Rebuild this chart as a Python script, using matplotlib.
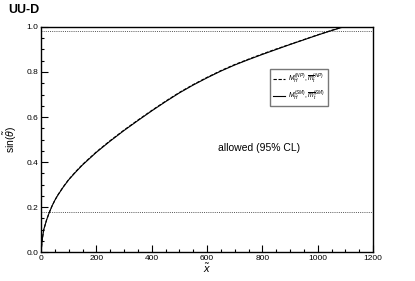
import numpy as np
import matplotlib.pyplot as plt
from matplotlib.ticker import MultipleLocator

plt.rcParams['font.family'] = ['Liberation Sans', 'DejaVu Sans']
plt.rcParams['mathtext.fontset'] = 'custom'
plt.rcParams['mathtext.rm'] = 'Liberation Sans'
plt.rcParams['mathtext.it'] = 'Liberation Sans:italic'

# values
x_vals = [0, 5, 10, 20, 30, 40, 50, 60, 80, 100, 125, 150, 175, 200, 250,
          300, 350, 400, 450, 500, 550, 600, 650, 700, 750, 800, 850, 900,
          950, 1000, 1050, 1092]
sin_sm = [0.0, 0.060, 0.100, 0.142, 0.176, 0.205, 0.230, 0.251, 0.288, 0.321,
          0.355, 0.387, 0.415, 0.443, 0.493, 0.540, 0.584, 0.627, 0.668, 0.707,
          0.742, 0.774, 0.804, 0.831, 0.855, 0.878, 0.900, 0.922, 0.943, 0.964,
          0.984, 1.0]
sin_np = [0.0, 0.060, 0.100, 0.142, 0.176, 0.205, 0.230, 0.252, 0.289, 0.322,
          0.357, 0.389, 0.417, 0.445, 0.495, 0.542, 0.586, 0.629, 0.670, 0.709,
          0.744, 0.776, 0.806, 0.833, 0.857, 0.880, 0.902, 0.923, 0.944, 0.965,
          0.985, 1.0]
limits = [0.98, 0.18]

fig = plt.figure(figsize=(4.15, 2.81), dpi=100)
ax = fig.add_axes([0.0988, 0.103, 0.8, 0.801])

for lim in limits:
    ax.axhline(lim, color='#555555', lw=0.7, ls=(0, (1, 1.2)))

ax.plot(x_vals, sin_np, color='black', lw=0.8, ls=(0, (3, 1.5)),
        label=r'$M_H^{(NP)}, \overline{m}_t^{(NP)}$')
ax.plot(x_vals, sin_sm, color='black', lw=0.8,
        label=r'$M_H^{(SM)}, \overline{m}_t^{(SM)}$')

ax.text(788, 0.462, 'allowed (95% CL)', fontsize=7.5, ha='center', va='center')

leg = ax.legend(loc='upper left', bbox_to_anchor=(0.69, 0.815), fontsize=4.9,
                frameon=True, fancybox=False, handlelength=1.8, handletextpad=0.5,
                borderpad=0.4, labelspacing=0.5, borderaxespad=0)
leg.get_frame().set_edgecolor('#555555')
leg.get_frame().set_linewidth(1.0)

ax.set_xlim(0, 1200)
ax.set_ylim(0, 1.0)
ax.xaxis.set_major_locator(MultipleLocator(200))
ax.xaxis.set_minor_locator(MultipleLocator(50))
ax.yaxis.set_major_locator(MultipleLocator(0.2))
ax.yaxis.set_minor_locator(MultipleLocator(0.05))
ax.yaxis.set_major_formatter(plt.FuncFormatter(lambda v, p: f'{v:.1f}'))
ax.tick_params(which='major', direction='in', length=5, width=0.8, labelsize=6, pad=2)
ax.tick_params(which='minor', direction='in', length=2.5, width=0.8)
for s in ax.spines.values():
    s.set_linewidth(1.0)

ax.set_xlabel(r'$\tilde{x}$', fontsize=8, labelpad=0)
ax.set_ylabel(r'sin($\tilde{\theta}$)', fontsize=7.5, labelpad=5)

fig.text(0.02, 0.965, 'UU-D', fontsize=9, fontweight='bold', va='center')

fig.savefig('out.png', dpi=100)
